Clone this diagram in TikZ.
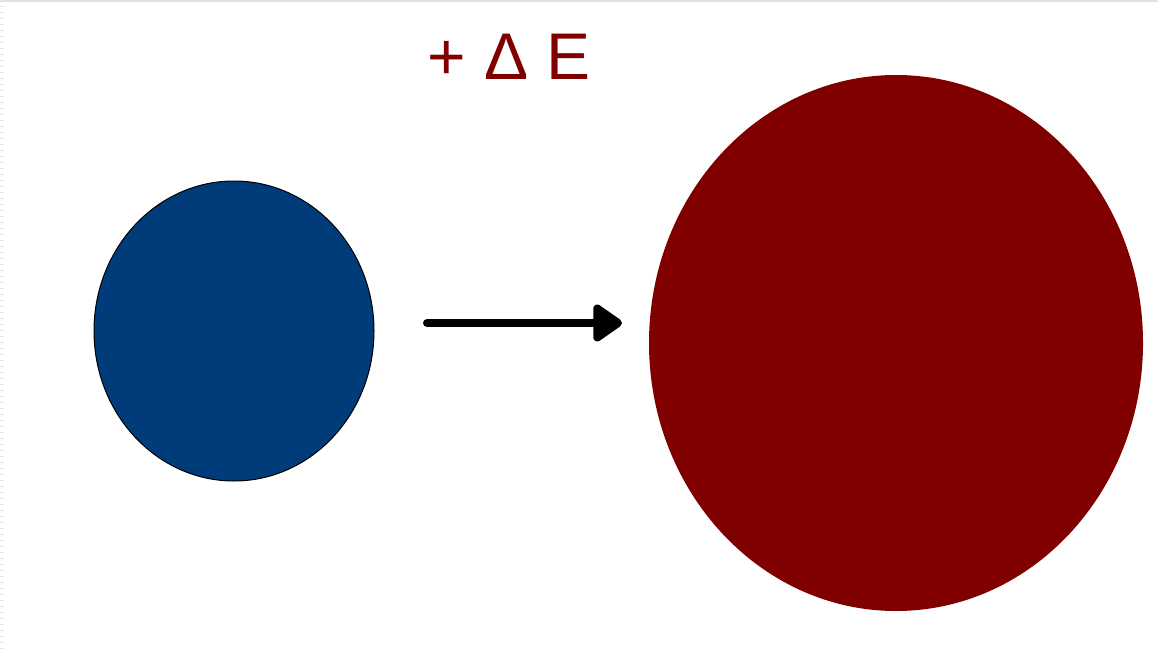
\documentclass[tikz,border=0pt]{standalone}
\usepackage{fontspec}
\setmainfont{Liberation Sans}
\usetikzlibrary{arrows.meta}
\definecolor{ballblue}{HTML}{003B7A}
\definecolor{ballred}{HTML}{800000}
\begin{document}
\begin{tikzpicture}[x=1pt,y=-1pt,
  ball/.style={ellipse, inner sep=0pt},
  lbl/.style={text=ballred, font=\fontsize{66}{66}\selectfont, inner sep=0pt}]
\useasboundingbox (0,0) rectangle (1158,650);
\fill[white] (0,0) rectangle (1158,650);
\draw[black!12, line width=1.5pt] (0,1) -- (1158,1);
\draw[black!10, line width=4pt, dash pattern=on 1pt off 5pt] (2,0) -- (2,650);
\fill[ballblue, draw=black, line width=1pt] (234,331) ellipse [x radius=140, y radius=150];
\coordinate (bc) at (234,331);
\fill[ballred] (896,343) ellipse [x radius=247, y radius=268];
\coordinate (rc) at (896,343);
\coordinate (a1) at (427,323);
\coordinate (a2) at (622,323);
\draw[line width=8pt, line cap=round, -{Triangle[round, length=32pt, width=42pt]}] (a1) -- (a2);
\node[lbl] (de) at (509,57) {+ Δ E};
\end{tikzpicture}
\end{document}
